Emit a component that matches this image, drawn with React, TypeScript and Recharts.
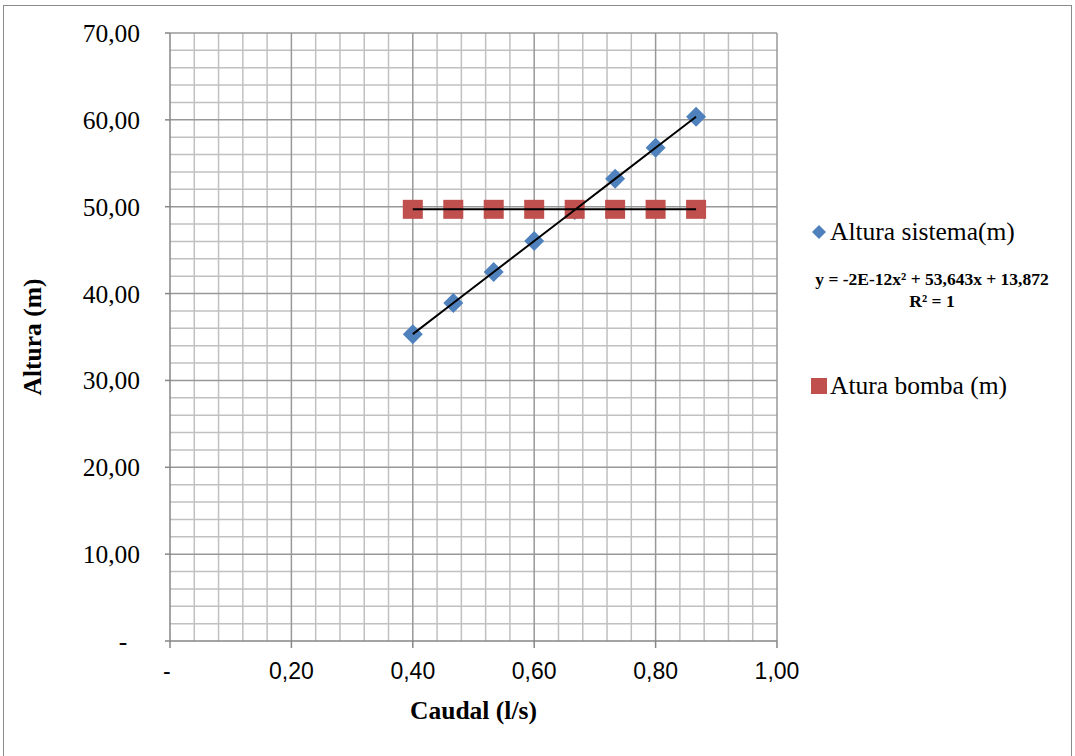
import {
  ComposedChart,
  Scatter,
  XAxis,
  YAxis,
  ReferenceLine,
} from 'recharts'

// Caudal (l/s) at each measured point
const caudal = [0.4, 0.4667, 0.5333, 0.6, 0.6667, 0.7333, 0.8, 0.8667]
// Altura sistema (m)
const alturaSistema = [35.33, 38.91, 42.48, 46.06, 49.63, 53.21, 56.79, 60.36]
// Altura bomba (m)
const alturaBomba = [49.7, 49.7, 49.7, 49.7, 49.7, 49.7, 49.7, 49.7]

const xTicks = [0, 0.2, 0.4, 0.6, 0.8, 1.0]
const yTicks = [0, 10, 20, 30, 40, 50, 60, 70]
const xMinor = [
  0.04, 0.08, 0.12, 0.16, 0.24, 0.28, 0.32, 0.36, 0.44, 0.48, 0.52, 0.56,
  0.64, 0.68, 0.72, 0.76, 0.84, 0.88, 0.92, 0.96,
]
const yMinor = [
  2, 4, 6, 8, 12, 14, 16, 18, 22, 24, 26, 28, 32, 34, 36, 38, 42, 44, 46, 48,
  52, 54, 56, 58, 62, 64, 66, 68,
]

const equation = 'y = -2E-12x² + 53,643x + 13,872'
const rSquared = 'R² = 1'

const BLUE = '#4F81BD'
const RED = '#C0504D'
const SERIF = '"Liberation Serif", "Times New Roman", serif'
const SANS = '"Liberation Sans", Arial, sans-serif'

const sistemaData = caudal.map((x, i) => ({ x, y: alturaSistema[i] }))
const bombaData = caudal.map((x, i) => ({ x, y: alturaBomba[i] }))

function fmt(v: number) {
  return v === 0 ? '-' : v.toFixed(2).replace('.', ',')
}

function Diamond({ cx, cy }: any) {
  const r = 10
  return <polygon points={`${cx},${cy - r} ${cx + r},${cy} ${cx},${cy + r} ${cx - r},${cy}`} fill={BLUE} />
}

function Square({ cx, cy }: any) {
  return <rect x={cx - 10} y={cy - 9.5} width={20} height={19} fill={RED} />
}

function NoDot() {
  return <g />
}

function LegendBox() {
  return (
    <div style={{ position: 'absolute', left: 810, top: 215, fontFamily: SERIF, color: '#000', width: 244 }}>
      <div style={{ display: 'flex', alignItems: 'center', fontSize: 25.5, height: 34, whiteSpace: 'nowrap' }}>
        <svg width={18} height={18} style={{ marginRight: 2 }}>
          <polygon points="9,2 16,9 9,16 2,9" fill={BLUE} />
        </svg>
        Altura sistema(m)
      </div>
      <div
        style={{
          fontWeight: 'bold',
          fontSize: 17.5,
          textAlign: 'center',
          lineHeight: '22px',
          marginTop: 19,
          whiteSpace: 'nowrap',
        }}
      >
        <div>{equation}</div>
        <div>{rSquared}</div>
      </div>
      <div style={{ display: 'flex', alignItems: 'center', fontSize: 25.5, height: 34, marginTop: 57, whiteSpace: 'nowrap' }}>
        <svg width={18} height={18} style={{ marginRight: 2 }}>
          <rect x={1} y={1} width={16} height={16} fill={RED} />
        </svg>
        Atura bomba (m)
      </div>
    </div>
  )
}

export default function App() {
  return (
    <div style={{ position: 'absolute', left: 0, top: 0, width: 1075, height: 756, background: '#fff' }}>
      <div
        style={{
          position: 'absolute',
          left: 3,
          top: 5,
          width: 1069,
          height: 760,
          borderLeft: '1.5px solid #8a8a8a',
          borderTop: '1.5px solid #8a8a8a',
          borderRight: '1.5px solid #8a8a8a',
          boxSizing: 'border-box',
        }}
      />
      <ComposedChart
        width={1075}
        height={756}
        margin={{ top: 33, right: 298, bottom: 75, left: 90 }}
        style={{ position: 'absolute', left: 0, top: 0 }}
      >
        {xMinor.map((v) => (
          <ReferenceLine key={'xm' + v} x={v} stroke="#c0c0c0" strokeWidth={1.5} />
        ))}
        {yMinor.map((v) => (
          <ReferenceLine key={'ym' + v} y={v} stroke="#c0c0c0" strokeWidth={1.5} />
        ))}
        {xTicks.slice(1).map((v) => (
          <ReferenceLine key={'xM' + v} x={v} stroke="#989898" strokeWidth={1.5} />
        ))}
        {yTicks.slice(1).map((v) => (
          <ReferenceLine key={'yM' + v} y={v} stroke="#989898" strokeWidth={1.5} />
        ))}
        <XAxis
          type="number"
          dataKey="x"
          domain={[0, 1]}
          ticks={xTicks}
          tickFormatter={(v: number) => (v === 0 ? '-\u00a0' : fmt(v))}
          stroke="#868686"
          strokeWidth={1.5}
          tickSize={7}
          tickMargin={15}
          height={40}
          tick={{ fill: '#000', fontFamily: SANS, fontSize: 23 }}
          label={{
            value: 'Caudal (l/s)',
            position: 'insideBottom',
            offset: -38,
            style: { fontFamily: SERIF, fontWeight: 'bold', fontSize: 25.5, fill: '#000' },
          }}
        />
        <YAxis
          type="number"
          dataKey="y"
          domain={[0, 70]}
          ticks={yTicks}
          tickFormatter={(v: number) => (v === 0 ? '-\u00a0\u00a0' : fmt(v))}
          stroke="#868686"
          strokeWidth={1.5}
          tickSize={5}
          tickMargin={25}
          width={80}
          tick={{ fill: '#000', fontFamily: SERIF, fontSize: 25.5 }}
          label={{
            value: 'Altura (m)',
            angle: -90,
            position: 'insideLeft',
            offset: -58,
            style: { fontFamily: SERIF, fontWeight: 'bold', fontSize: 25.5, fill: '#000', textAnchor: 'middle' },
          }}
        />
        <Scatter name="Altura sistema(m)" data={sistemaData} shape={<Diamond />} isAnimationActive={false} />
        <Scatter name="Atura bomba (m)" data={bombaData} shape={<Square />} isAnimationActive={false} />
        <Scatter
          data={sistemaData}
          shape={<NoDot />}
          line={{ stroke: '#000', strokeWidth: 2 }}
          legendType="none"
          isAnimationActive={false}
        />
        <Scatter
          data={bombaData}
          shape={<NoDot />}
          line={{ stroke: '#000', strokeWidth: 2 }}
          legendType="none"
          isAnimationActive={false}
        />
      </ComposedChart>
      <LegendBox />
    </div>
  )
}
